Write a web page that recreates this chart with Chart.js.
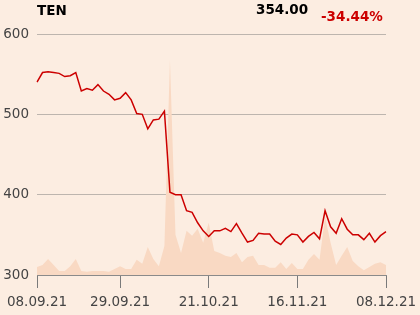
<!DOCTYPE html>
<html>
<head>
<meta charset="utf-8">
<script src="https://cdn.jsdelivr.net/npm/chart.js@4/dist/chart.umd.min.js"></script>
<style>
  body { margin: 0; background: #fcede1; }
  #wrap { position: relative; width: 420px; height: 315px; font-family: "DejaVu Sans", sans-serif; }
  .hd { position: absolute; font-size: 13.5px; line-height: 13.5px; font-weight: bold; white-space: nowrap; }
</style>
</head>
<body>
<div id="wrap">
  <canvas id="chart" width="420" height="315"></canvas>
  <div class="hd" style="left:37px; top:4px; color:#000;">TEN</div>
  <div class="hd" style="left:256px; top:3px; color:#000;">354.00</div>
  <div class="hd" style="left:321px; top:10px; color:#cc0000;">-34.44%</div>
</div>
<script>
// Trading days (Warsaw), 08.09.21 - 08.12.21
const dates = [
  '08.09.21', '09.09.21', '10.09.21', '13.09.21', '14.09.21', '15.09.21', '16.09.21', '17.09.21',
  '20.09.21', '21.09.21', '22.09.21', '23.09.21', '24.09.21', '27.09.21', '28.09.21', '29.09.21',
  '30.09.21', '01.10.21', '04.10.21', '05.10.21', '06.10.21', '07.10.21', '08.10.21', '11.10.21',
  '12.10.21', '13.10.21', '14.10.21', '15.10.21', '18.10.21', '19.10.21', '20.10.21', '21.10.21',
  '22.10.21', '25.10.21', '26.10.21', '27.10.21', '28.10.21', '29.10.21', '02.11.21', '03.11.21',
  '04.11.21', '05.11.21', '08.11.21', '09.11.21', '10.11.21', '12.11.21', '15.11.21', '16.11.21',
  '17.11.21', '18.11.21', '19.11.21', '22.11.21', '23.11.21', '24.11.21', '25.11.21', '26.11.21',
  '29.11.21', '30.11.21', '01.12.21', '02.12.21', '03.12.21', '06.12.21', '07.12.21', '08.12.21'
];

// closing price
const price = [
  540, 552, 553, 552, 551, 547, 548, 552, 529, 532,
  530, 537, 529, 525, 518, 520, 527, 518, 501, 500,
  482, 493, 494, 504, 403, 400, 400, 380, 378, 365,
  355, 348, 355, 355, 358, 354, 364, 352, 341, 343,
  352, 351, 351, 342, 338, 346, 351, 350, 341, 348,
  353, 345, 380, 360, 352, 370, 357, 350, 350, 344,
  352, 341, 349, 354
];

// volume (thousand shares, estimated)
const volume = [
  2, 2.5, 4, 2.5, 1, 1, 2.2, 4, 1, 0.8,
  1, 1, 1, 0.8, 1.5, 2.2, 1.5, 1.5, 3.8, 2.8,
  7, 4, 2.2, 7.2, 53.5, 10, 5.5, 11, 9.8, 11.5,
  8, 13, 6, 5.5, 4.8, 4.5, 5.5, 3.2, 4.5, 4.8,
  2.5, 2.5, 1.8, 1.8, 3.2, 1.5, 3, 1.5, 1.5, 3.8,
  5.2, 3.8, 14.5, 8, 2.5, 4.8, 7, 3.5, 2.2, 1.2,
  2, 2.8, 3.2, 2.5
];

const yTicks = [300, 400, 500, 600];
const xTickIdx = [0, 15, 31, 47, 63];

const tickFont = { family: 'DejaVu Sans', size: 13.5 };

const ctx = document.getElementById('chart').getContext('2d');
new Chart(ctx, {
  type: 'line',
  data: {
    labels: dates,
    datasets: [{
      label: 'TEN',
      data: price,
      borderColor: '#cc0000',
      borderWidth: 1.5,
      pointRadius: 0,
      tension: 0,
      yAxisID: 'y',
      order: 1
    }, {
      label: 'Volume',
      data: volume,
      borderWidth: 0,
      borderColor: 'rgba(0,0,0,0)',
      backgroundColor: '#f9d9c3',
      fill: 'start',
      pointRadius: 0,
      tension: 0,
      yAxisID: 'vol',
      order: 2
    }]
  },
  options: {
    responsive: false,
    animation: false,
    events: [],
    layout: { padding: { top: 34, right: 34, left: 0, bottom: 0 } },
    plugins: { legend: { display: false }, tooltip: { enabled: false } },
    scales: {
      x: {
        type: 'category',
        offset: false,
        afterBuildTicks: (scale) => {
          scale.ticks = scale.ticks.filter(t => xTickIdx.includes(t.value));
        },
        afterFit: (scale) => {
          scale.height = 40;
          scale.paddingLeft = 0;
          scale.paddingRight = 0;
        },
        ticks: {
          autoSkip: false,
          maxRotation: 0,
          color: '#444',
          font: tickFont,
          padding: 6,
          callback: (v) => dates[v]
        },
        grid: {
          drawOnChartArea: false,
          drawTicks: true,
          tickLength: 13,
          color: '#7a7a7a',
          lineWidth: 1
        },
        border: { display: true, color: '#8a8a8a', width: 1 }
      },
      y: {
        min: 300,
        max: 600,
        afterBuildTicks: (scale) => {
          scale.ticks = yTicks.map(v => ({ value: v }));
        },
        afterFit: (scale) => { scale.width = 37; },
        ticks: {
          color: '#444',
          font: tickFont,
          padding: 8
        },
        grid: {
          drawTicks: false,
          color: '#bdb5ae',
          lineWidth: 1
        },
        border: { display: false }
      },
      vol: {
        display: false,
        min: 0,
        max: 60
      }
    }
  }
});
</script>
</body>
</html>
